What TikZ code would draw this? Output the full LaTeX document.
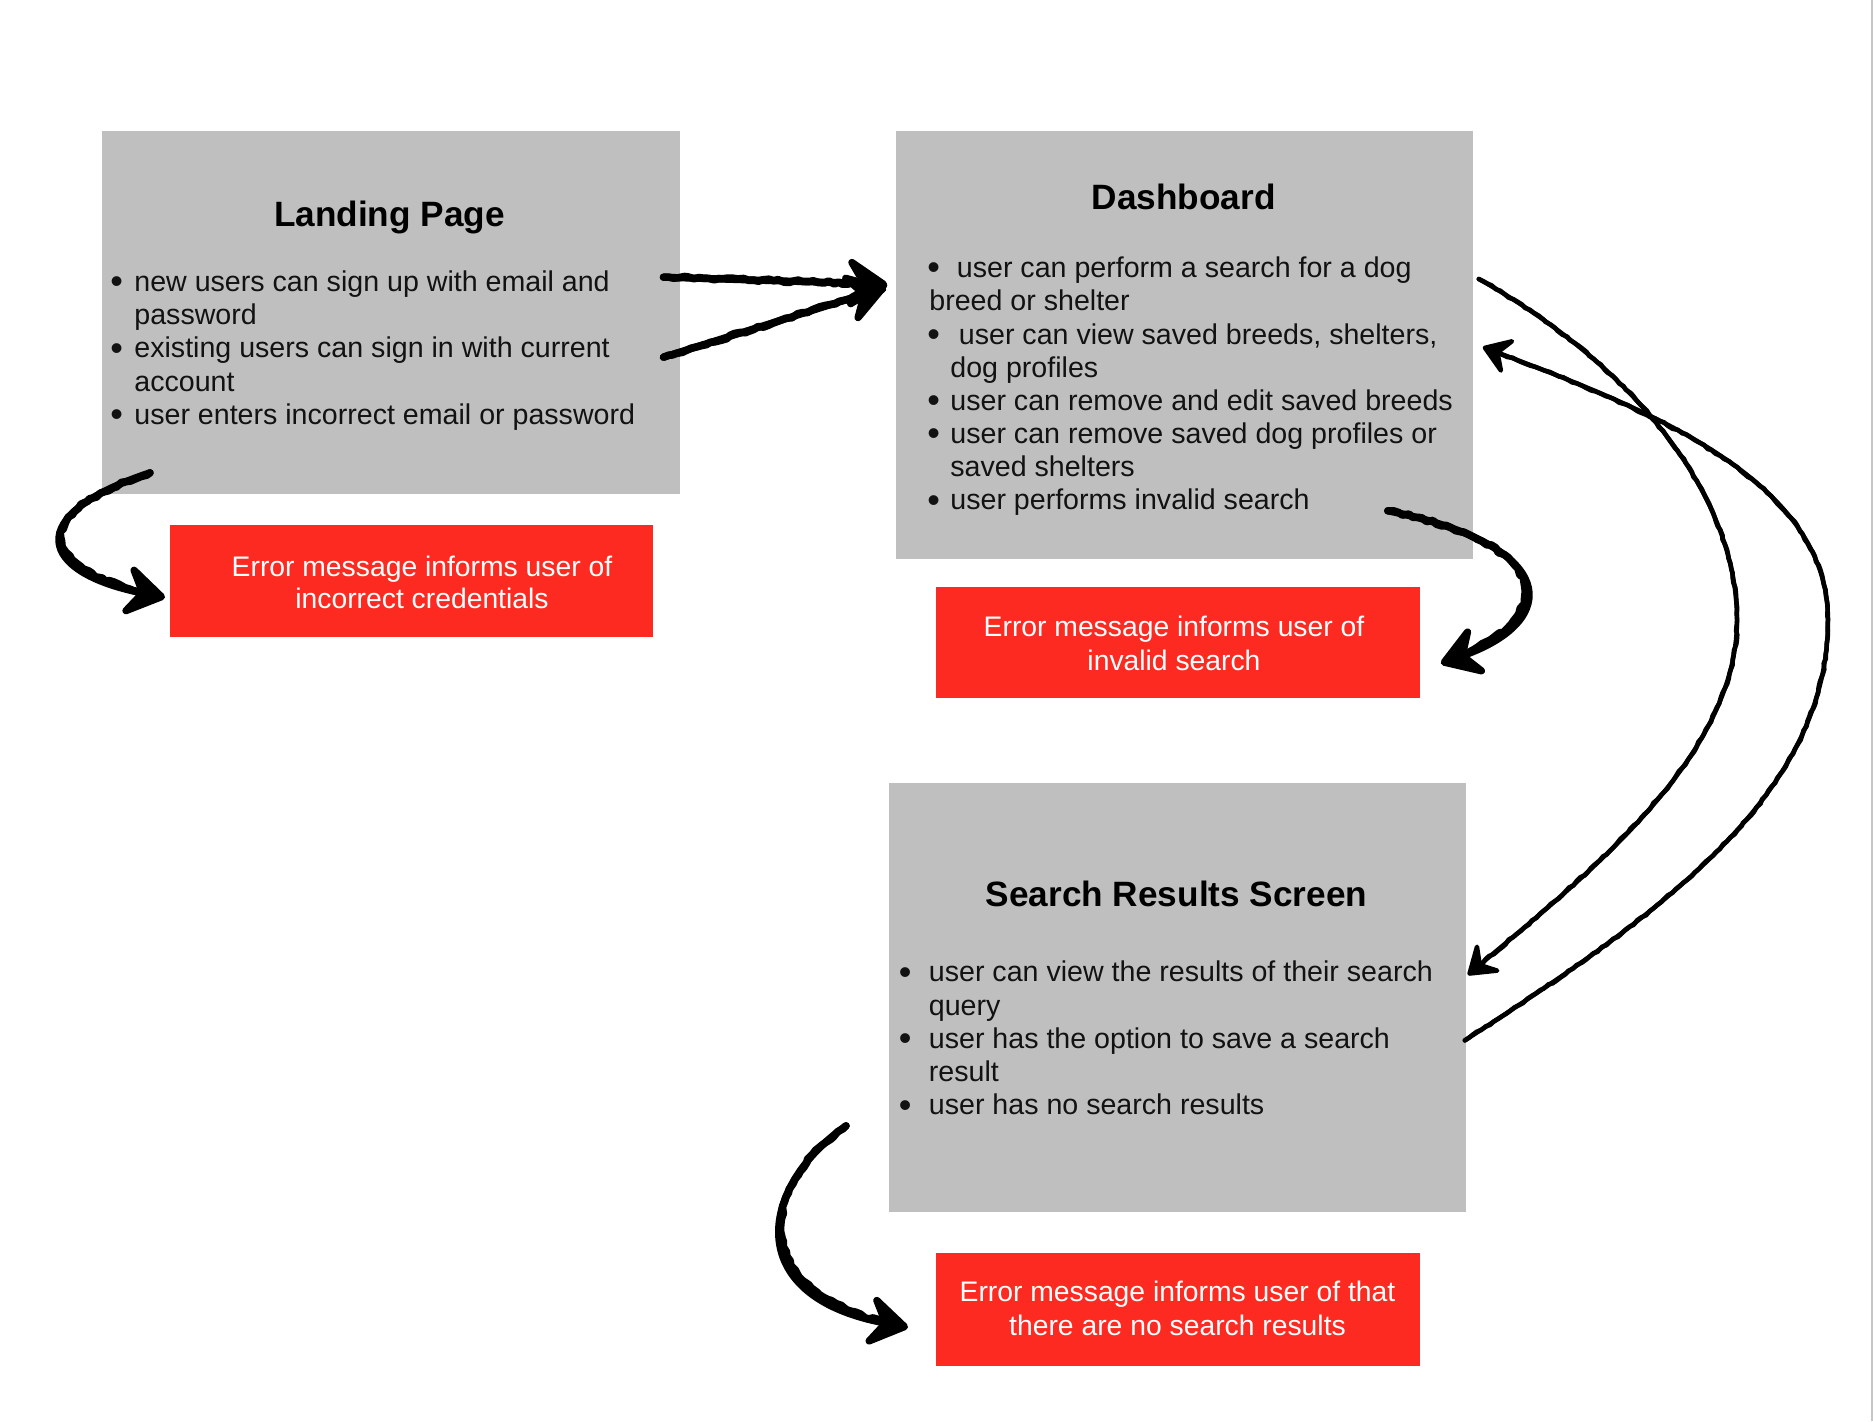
\documentclass[tikz,border=0pt]{standalone}
\usepackage{fontspec}
\setmainfont{Liberation Sans}
\usetikzlibrary{arrows.meta,decorations.pathmorphing}
\definecolor{boxgray}{RGB}{191,191,191}
\definecolor{errred}{RGB}{252,42,32}
\definecolor{txtc}{RGB}{18,18,18}
\pgfmathsetseed{7}
\tikzset{
  graybox/.style={fill=boxgray, draw=none, inner sep=0pt, anchor=north west},
  redbox/.style={fill=errred, draw=none, inner sep=0pt, anchor=north west},
  ttl/.style={font=\fontsize{17.6}{20}\selectfont\bfseries, text=black, inner sep=0pt, anchor=base},
  body/.style={font=\fontsize{14.3}{16.7}\selectfont, text=txtc, inner sep=0pt, anchor=base west},
  bul/.style={font=\fontsize{18}{18}\selectfont, text=txtc, inner sep=0pt, anchor=base west, yshift=-1.3pt},
  errtxt/.style={font=\fontsize{14.15}{16.7}\selectfont, text=white, inner sep=0pt, anchor=base},
  sketchthick/.style={draw=black, line width=3.6pt, line cap=round, line join=round,
     postaction={draw=black, arrows=-, line width=3.8pt, shorten >=8pt, decorate,
       decoration={random steps, segment length=2.5pt, amplitude=0.7pt}}},
  sketchthin/.style={draw=black, line width=2.2pt, line cap=round, line join=round,
     postaction={draw=black, arrows=-, line width=2.3pt, shorten >=6pt, decorate,
       decoration={random steps, segment length=2.5pt, amplitude=0.45pt}}},
  bigtip/.style={-{Stealth[length=25pt,width=32pt,inset=10pt,round]}},
  smalltip/.style={-{Stealth[length=17pt,width=23pt,inset=7pt,round]}},
  midtip/.style={-{Stealth[length=25pt,width=32pt,inset=10pt,round]}}
}
\begin{document}
\begin{tikzpicture}[x=0.5pt,y=-0.5pt]
\useasboundingbox (0,0) rectangle (1873,1421);
\fill[white] (0,0) rectangle (1873,1421);
\draw[line width=1pt, draw=gray!45] (1871.5,0) -- (1871.5,1421);

% boxes
\node[graybox, minimum width=289.1pt, minimum height=181.55pt] (landing) at (101.5,130.2) {};
\node[graybox, minimum width=288.45pt, minimum height=214.4pt] (dash) at (895.9,130.2) {};
\node[graybox, minimum width=288.5pt, minimum height=214.4pt] (results) at (888.7,782.4) {};
\node[redbox, minimum width=241.3pt, minimum height=56.15pt] (err1) at (169.6,524.4) {};
\node[redbox, minimum width=241.9pt, minimum height=55.55pt] (err2) at (935.3,586.5) {};
\node[redbox, minimum width=241.9pt, minimum height=56.15pt] (err3) at (935.3,1253) {};

% Landing page text
\node[ttl] (lt) at (389.4,226) {Landing Page};
\node[bul] (lb1) at (110,291) {•};
\node[body] (l1) at (134,291) {new users can sign up with email and};
\node[body] (l2) at (134,324.5) {password};
\node[bul] (lb2) at (110,357.5) {•};
\node[body] (l3) at (134,357.5) {existing users can sign in with current};
\node[body] (l4) at (134,391) {account};
\node[bul] (lb3) at (110,424) {•};
\node[body] (l5) at (134,424) {user enters incorrect email or password};

% Dashboard text
\node[ttl] (dt) at (1183.8,209.3) {Dashboard};
\node[bul] (db1) at (927,277.3) {•};
\node[body] (d1) at (956.5,277.3) {user can perform a search for a dog};
\node[body] (d2) at (929,310.7) {breed or shelter};
\node[bul] (db2) at (927,344) {•};
\node[body] (d3) at (958.5,344) {user can view saved breeds, shelters,};
\node[body] (d4) at (950,377) {dog profiles};
\node[bul] (db3) at (927,410) {•};
\node[body] (d5) at (950,410) {user can remove and edit saved breeds};
\node[bul] (db4) at (927,443.3) {•};
\node[body] (d6) at (950,443.3) {user can remove saved dog profiles or};
\node[body] (d7) at (950,476.5) {saved shelters};
\node[bul] (db5) at (927,509.5) {•};
\node[body] (d8) at (950,509.5) {user performs invalid search};

% Search results text
\node[ttl] (st) at (1176.6,906.8) {Search Results Screen};
\node[bul] (sb1) at (898.5,981.8) {•};
\node[body] (s1) at (928.5,981.8) {user can view the results of their search};
\node[body] (s2) at (928.5,1015) {query};
\node[bul] (sb2) at (898.5,1048.2) {•};
\node[body] (s3) at (928.5,1048.2) {user has the option to save a search};
\node[body] (s4) at (928.5,1081.5) {result};
\node[bul] (sb3) at (898.5,1114.5) {•};
\node[body] (s5) at (928.5,1114.5) {user has no search results};

% Error texts
\node[errtxt] (e1a) at (422,576.5) {Error message informs user of};
\node[errtxt] (e1b) at (422,608.3) {incorrect credentials};
\node[errtxt] (e2a) at (1174,636.8) {Error message informs user of};
\node[errtxt] (e2b) at (1174,670) {invalid search};
\node[errtxt] (e3a) at (1177.5,1301.8) {Error message informs user of that};
\node[errtxt] (e3b) at (1177.5,1335.2) {there are no search results};

% connectors
\draw[sketchthick, bigtip] ([shift={(-17,147)}]landing.north east) -- ([shift={(-9,154)}]dash.north west);
\draw[sketchthick, bigtip] ([shift={(-17,227)}]landing.north east) -- ([shift={(-10,157)}]dash.north west);

\draw[sketchthick, midtip] ([shift={(48.5,-21.3)}]landing.south west)
   .. controls +(-130,43) and +(-125,-25) .. ([shift={(-4.6,16.5)}]err1.west);

\draw[sketchthick, midtip] ([shift={(-85.8,-49)}]dash.south east)
   .. controls +(173,35) and +(120,-43) .. ([shift={(21,21)}]err2.east);

\draw[sketchthin, smalltip] ([shift={(5.2,148.8)}]dash.north east)
   .. controls +(162,91) and (1737,500) .. (1737,620)
   .. controls (1737,760) and (1580,880) .. ([shift={(1.3,192.6)}]results.north east);

\draw[sketchthin, smalltip] ([shift={(-1.7,43.2)}]results.east)
   .. controls (1650,920) and (1828,800) .. (1828,620)
   .. controls (1828,480) and (1650,410) .. ([shift={(9.2,216.8)}]dash.north east);

\draw[sketchthick, midtip] ([shift={(-42.7,-86.2)}]results.south west)
   .. controls +(-86,60) and +(-168,-32) .. ([shift={(-27.3,17.8)}]err3.west);
\end{tikzpicture}
\end{document}
